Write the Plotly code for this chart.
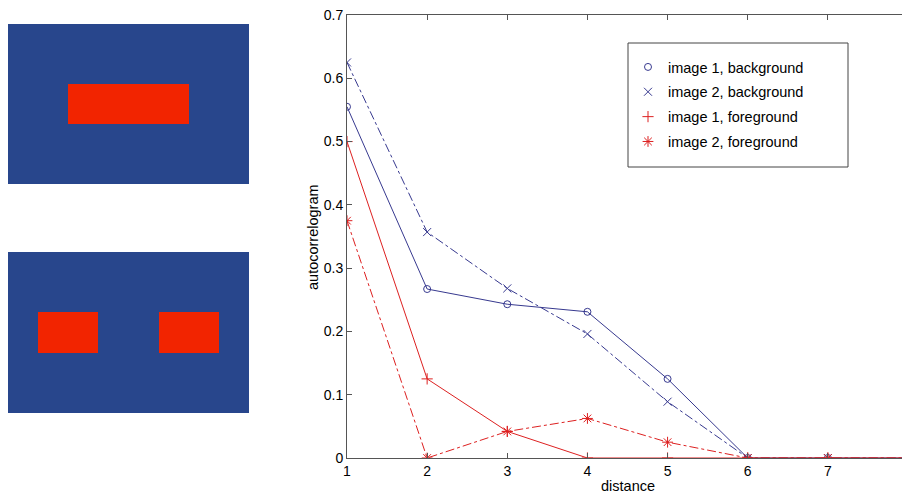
import plotly.graph_objects as go

# ---- data ----
distance = [1, 2, 3, 4, 5, 6, 7, 8]
img1_background = [0.555, 0.267, 0.243, 0.231, 0.125, 0.0, 0.0, 0.0]
img2_background = [0.625, 0.357, 0.268, 0.196, 0.089, 0.0, 0.0, 0.0]
img1_foreground = [0.5, 0.125, 0.042, 0.0, 0.0, 0.0, 0.0, 0.0]
img2_foreground = [0.375, 0.0, 0.042, 0.0625, 0.025, 0.0, 0.0, 0.0]
y_ticks = [0, 0.1, 0.2, 0.3, 0.4, 0.5, 0.6, 0.7]
y_ticklabels = ["0", "0.1", "0.2", "0.3", "0.4", "0.5", "0.6", "0.7"]

# example images (0 = background, 1 = foreground), 8x8 grids
image1 = [
    [0, 0, 0, 0, 0, 0, 0, 0],
    [0, 0, 0, 0, 0, 0, 0, 0],
    [0, 0, 0, 0, 0, 0, 0, 0],
    [0, 0, 1, 1, 1, 1, 0, 0],
    [0, 0, 1, 1, 1, 1, 0, 0],
    [0, 0, 0, 0, 0, 0, 0, 0],
    [0, 0, 0, 0, 0, 0, 0, 0],
    [0, 0, 0, 0, 0, 0, 0, 0],
]
image2 = [
    [0, 0, 0, 0, 0, 0, 0, 0],
    [0, 0, 0, 0, 0, 0, 0, 0],
    [0, 0, 0, 0, 0, 0, 0, 0],
    [0, 1, 1, 0, 0, 1, 1, 0],
    [0, 1, 1, 0, 0, 1, 1, 0],
    [0, 0, 0, 0, 0, 0, 0, 0],
    [0, 0, 0, 0, 0, 0, 0, 0],
    [0, 0, 0, 0, 0, 0, 0, 0],
]

BLUE = "#37398f"
RED = "#dd2020"
IMG_BLUE = "#28468c"
IMG_RED = "#f22400"
FONT = "Liberation Sans, Arial, sans-serif"

# the page body has an 8px margin; lay out in screen pixels
OFF = 8
W, H = 910 - OFF, 493 - OFF
def px_x(p):
    return (p - OFF) / W
def px_y(p):
    return 1 - (p - OFF) / H

fig = go.Figure()

series = [
    ("image 1, background", img1_background, BLUE, "solid", "circle-open", 7),
    ("image 2, background", img2_background, BLUE, "dashdot", "x-thin-open", 8),
    ("image 1, foreground", img1_foreground, RED, "solid", "cross-thin-open", 8),
    ("image 2, foreground", img2_foreground, RED, "dashdot", "asterisk-open", 9),
]

for i, (name, vals, col, dash, sym, sz) in enumerate(series):
    fig.add_trace(go.Scatter(
        x=distance, y=vals, mode="lines+markers", name=name,
        line=dict(color=col, width=1, dash=dash),
        marker=dict(symbol=sym, size=sz, color=col, line=dict(color=col, width=1)),
        showlegend=False, xaxis="x", yaxis="y",
    ))
for i, (name, vals, col, dash, sym, sz) in enumerate(series):
    fig.add_trace(go.Scatter(
        x=[None], y=[None], mode="markers", name=name,
        marker=dict(symbol=sym, size=sz, color=col, line=dict(color=col, width=1)),
        showlegend=True, legendgroup="g%d" % i, xaxis="x", yaxis="y",
    ))

cs = [[0, IMG_BLUE], [1, IMG_RED]]
fig.add_trace(go.Heatmap(z=image1, colorscale=cs, zmin=0, zmax=1, showscale=False,
                         xaxis="x2", yaxis="y2", hoverinfo="skip"))
fig.add_trace(go.Heatmap(z=image2, colorscale=cs, zmin=0, zmax=1, showscale=False,
                         xaxis="x3", yaxis="y3", hoverinfo="skip"))

axis_common = dict(showgrid=False, zeroline=False, showline=True, linecolor="#555555",
                   linewidth=1, mirror="ticks", ticks="inside", ticklen=5,
                   tickcolor="#555555", automargin=False, ticklabeloverflow="allow",
                   tickfont=dict(family=FONT, size=14, color="black"))

hidden = dict(visible=False, showgrid=False, zeroline=False, automargin=False)

fig.update_layout(
    width=W, height=H,
    margin=dict(l=0, r=0, t=0, b=0, autoexpand=False),
    paper_bgcolor="white", plot_bgcolor="white",
    font=dict(family=FONT, size=14, color="black"),
    xaxis=dict(domain=[px_x(347), px_x(908)], range=[1, 8], tickvals=distance,
               **axis_common),
    yaxis=dict(domain=[px_y(458), px_y(15)], range=[0, 0.7], tickvals=y_ticks,
               ticktext=y_ticklabels, **axis_common),
    xaxis2=dict(domain=[px_x(8), px_x(249)], range=[-0.5, 7.5], anchor="y2", **hidden),
    yaxis2=dict(domain=[px_y(184), px_y(24)], range=[7.5, -0.5], anchor="x2", **hidden),
    xaxis3=dict(domain=[px_x(8), px_x(249)], range=[-0.5, 7.5], anchor="y3", **hidden),
    yaxis3=dict(domain=[px_y(413), px_y(252)], range=[7.5, -0.5], anchor="x3", **hidden),
    legend=dict(x=px_x(628), y=px_y(51), xanchor="left", yanchor="top",
                borderwidth=0, bgcolor="rgba(0,0,0,0)",
                font=dict(family=FONT, size=14.5, color="black"),
                traceorder="grouped", tracegroupgap=3),
    shapes=[
        dict(type="rect", xref="paper", yref="paper",
             x0=px_x(628), x1=px_x(848), y0=px_y(167), y1=px_y(43),
             line=dict(color="#444444", width=1), fillcolor="rgba(0,0,0,0)", layer="below"),
    ],
    annotations=[
        dict(text="distance", x=(px_x(347) + px_x(908)) / 2, y=px_y(486),
             xref="paper", yref="paper", showarrow=False,
             font=dict(family=FONT, size=14.5, color="black"),
             xanchor="center", yanchor="middle"),
        dict(text="autocorrelogram", x=px_x(313), y=px_y(237),
             xref="paper", yref="paper", showarrow=False, textangle=-90,
             font=dict(family=FONT, size=14.5, color="black"),
             xanchor="center", yanchor="middle"),
    ],
)

fig.write_html("out.html")
